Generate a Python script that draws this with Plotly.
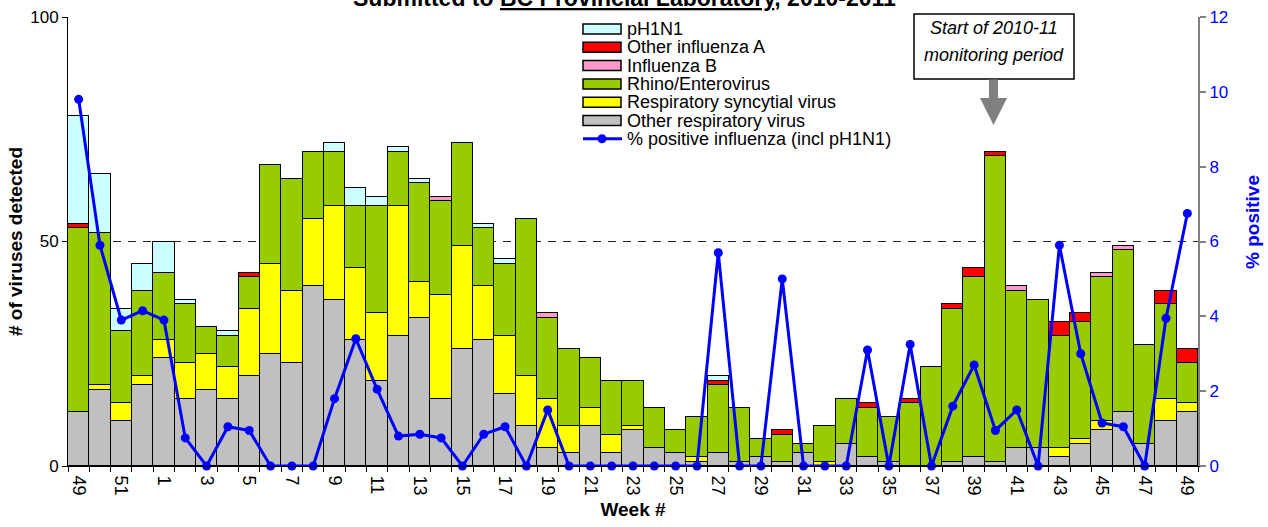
import plotly.graph_objects as go

# ---------------- data ----------------
weeks = [49, 50, 51, 52, 1, 2, 3, 4, 5, 6, 7, 8, 9, 10, 11, 12, 13, 14, 15, 16, 17,
         18, 19, 20, 21, 22, 23, 24, 25, 26, 27, 28, 29, 30, 31, 32, 33, 34, 35, 36,
         37, 38, 39, 40, 41, 42, 43, 44, 45, 46, 47, 48, 49]

series_names = ["pH1N1", "Other influenza A", "Influenza B", "Rhino/Enterovirus",
                "Respiratory syncytial virus", "Other respiratory virus"]
line_name = "% positive influenza (incl pH1N1)"

other_resp = [12, 17, 10, 18, 24, 15, 17, 15, 20, 25, 23, 40, 37, 28, 19, 29, 33,
              15, 26, 28, 16, 9, 4, 3, 9, 3, 8, 4, 3, 1, 3, 1, 2, 1, 3, 0,
              5, 2, 1, 0, 0, 1, 2, 1, 4, 4, 2, 5, 8, 12, 5, 10, 12]
rsv = [0, 1, 4, 2, 4, 8, 8, 7, 15, 20, 16, 15, 21, 16, 15, 29, 8,
       23, 23, 12, 13, 11, 11, 6, 4, 4, 1, 0, 0, 1, 0, 0, 0, 0, 0, 1,
       0, 0, 0, 0, 0, 0, 0, 0, 0, 0, 2, 1, 2, 0, 0, 5, 2]
rhino = [41, 34, 16, 19, 15, 13, 6, 7, 7, 22, 25, 15, 12, 14, 24, 12, 22,
         21, 23, 13, 16, 35, 18, 17, 11, 12, 10, 9, 5, 9, 15, 12, 4, 6, 2, 8,
         10, 11, 10, 14, 22, 34, 40, 68, 35, 33, 25, 26, 32, 36, 22, 21, 9]
flu_b = [0, 0, 0, 0, 0, 0, 0, 0, 0, 0, 0, 0, 0, 0, 0, 0, 0,
         1, 0, 0, 0, 0, 1, 0, 0, 0, 0, 0, 0, 0, 0, 0, 0, 0, 0, 0,
         0, 0, 0, 0, 0, 0, 0, 0, 1, 0, 0, 0, 1, 1, 0, 0, 0]
other_flu_a = [1, 0, 0, 0, 0, 0, 0, 0, 1, 0, 0, 0, 0, 0, 0, 0, 0,
               0, 0, 0, 0, 0, 0, 0, 0, 0, 0, 0, 0, 0, 1, 0, 0, 1, 0, 0,
               0, 1, 0, 1, 0, 1, 2, 1, 0, 0, 3, 2, 0, 0, 0, 3, 3]
ph1n1 = [24, 13, 5, 6, 7, 1, 0, 1, 0, 0, 0, 0, 2, 4, 2, 1, 1,
         0, 0, 1, 1, 0, 0, 0, 0, 0, 0, 0, 0, 0, 1, 0, 0, 0, 0, 0,
         0, 0, 0, 0, 0, 0, 0, 0, 0, 0, 0, 0, 0, 0, 0, 0, 0]
pct_positive = [9.8, 5.9, 3.9, 4.15, 3.9, 0.75, 0, 1.05, 0.95, 0, 0, 0, 1.8, 3.4, 2.05, 0.8, 0.85,
                0.75, 0, 0.85, 1.05, 0, 1.5, 0, 0, 0, 0, 0, 0, 0, 5.7, 0, 0, 5.0, 0, 0,
                0, 3.1, 0, 3.25, 0, 1.6, 2.7, 0.95, 1.5, 0, 5.9, 3.0, 1.15, 1.05, 0, 3.95, 6.75]

title_text = "Submitted to <u>BC Provincial Laboratory</u>, 2010-2011"
note_lines = ["Start of 2010-11", "monitoring period"]

# ---------------- layout geometry ----------------
W, H = 1268, 527
ML, MR, MT, MB = 68, 70, 17, 61
PW, PH = W - ML - MR, H - MT - MB


def px(x):
    return (x - ML) / PW


def py(y):
    return (H - MB - y) / PH


FONT = "Arial, 'Liberation Sans', sans-serif"
colors = ["#CCFFFF", "#FF0000", "#FF99CC", "#99CC00", "#FFFF00", "#C0C0C0"]
blue = "#0000FF"

x = list(range(len(weeks)))
fig = go.Figure()

stack_data = [other_resp, rsv, rhino, flu_b, other_flu_a, ph1n1]  # bottom -> top
for k, vals in enumerate(stack_data):
    idx = len(stack_data) - 1 - k
    fig.add_bar(
        x=x, y=[v if v else None for v in vals], name=series_names[idx],
        marker=dict(color=colors[idx], line=dict(color="black", width=1)),
        showlegend=False,
    )

fig.add_scatter(
    x=x, y=pct_positive, yaxis="y2", name=line_name, mode="lines+markers",
    line=dict(color=blue, width=3), marker=dict(color=blue, size=9),
    cliponaxis=False, showlegend=False,
)

fig.update_layout(
    width=W, height=H,
    margin=dict(l=ML, r=MR, t=MT, b=MB, autoexpand=False),
    barmode="stack", bargap=0,
    plot_bgcolor="white", paper_bgcolor="white",
    font=dict(family=FONT, size=17, color="black"),
    showlegend=False,
    xaxis=dict(
        range=[-0.5, len(weeks) - 0.5],
        tickmode="array", tickvals=x[::2], ticktext=[str(w) for w in weeks[::2]],
        tickangle=90, ticks="outside", ticklen=5, tickcolor="rgba(0,0,0,0)",
        tickfont=dict(size=18),
        minor=dict(tickmode="array", tickvals=[i - 0.5 for i in range(len(weeks) + 1)],
                   ticks="outside", ticklen=5, tickcolor="black", tickwidth=1),
        showline=True, linecolor="black", linewidth=1,
        showgrid=False, zeroline=False,
        title=dict(text="<b>Week #</b>", font=dict(size=19), standoff=8),
    ),
    yaxis=dict(
        range=[0, 100], tickmode="array", tickvals=[0, 50, 100],
        ticks="outside", ticklen=5, tickcolor="black",
        showline=True, linecolor="black", linewidth=1,
        showgrid=True, gridcolor="#222222", griddash="8px,7px", gridwidth=1,
        zeroline=False,
        title=dict(text="<b># of viruses detected</b>", font=dict(size=19), standoff=2),
    ),
    yaxis2=dict(
        overlaying="y", side="right", anchor="x",
        range=[0, 12], tickmode="array", tickvals=[0, 2, 4, 6, 8, 10, 12],
        tickfont=dict(color=blue, size=17),
        ticks="outside", ticklen=6, tickcolor="#808080", tickwidth=2,
        showline=True, linecolor="#808080", linewidth=2,
        showgrid=False, zeroline=False,
    ),
)

shapes = []
annotations = []

# right axis title
annotations.append(dict(
    text="<b>% positive</b>", xref="paper", yref="paper",
    x=px(1252), y=py(222), xanchor="center", yanchor="middle", textangle=-90,
    showarrow=False, font=dict(size=19, family=FONT, color=blue),
))

# partially visible title (its top lies above the page, as in the source)
annotations.append(dict(
    text="<b>" + title_text + "</b>", xref="paper", yref="paper",
    x=px(624), y=py(13.5), xanchor="center", yanchor="bottom", showarrow=False,
    font=dict(size=23, family=FONT, color="black"),
))

# custom legend
row_y = [29, 47.3, 65.6, 83.9, 102.2, 120.5, 138.8]
LEG_FONT = 18
for i, name in enumerate(series_names):
    shapes.append(dict(
        type="rect", xref="paper", yref="paper",
        x0=px(583), x1=px(621), y0=py(row_y[i] + 5), y1=py(row_y[i] - 5),
        fillcolor=colors[i], line=dict(color="black", width=1.5),
    ))
    annotations.append(dict(
        text=name, xref="paper", yref="paper", x=px(626), y=py(row_y[i]),
        xanchor="left", yanchor="middle", showarrow=False, borderpad=0,
        font=dict(size=LEG_FONT, family=FONT, color="black"),
    ))
shapes.append(dict(type="line", xref="paper", yref="paper",
                   x0=px(583), x1=px(622), y0=py(row_y[6]), y1=py(row_y[6]),
                   line=dict(color=blue, width=3)))
shapes.append(dict(type="circle", xref="paper", yref="paper",
                   x0=px(597.5), x1=px(606.5), y0=py(row_y[6] + 4.5), y1=py(row_y[6] - 4.5),
                   fillcolor=blue, line=dict(color=blue, width=0)))
annotations.append(dict(
    text=line_name, xref="paper", yref="paper", x=px(626), y=py(row_y[6]),
    xanchor="left", yanchor="middle", showarrow=False, borderpad=0,
    font=dict(size=LEG_FONT, family=FONT, color="black"),
))

# note box with arrow
shapes.append(dict(type="rect", xref="paper", yref="paper",
                   x0=px(914), x1=px(1074), y0=py(79), y1=py(14),
                   fillcolor="white", line=dict(color="black", width=1.5)))
for j, ln in enumerate(note_lines):
    annotations.append(dict(
        text="<i>" + ln + "</i>", xref="paper", yref="paper",
        x=px(994), y=py(28 + 27 * j), xanchor="center", yanchor="middle",
        showarrow=False, font=dict(size=18, family=FONT, color="black"),
    ))
shapes.append(dict(type="rect", xref="paper", yref="paper",
                   x0=px(989), x1=px(998), y0=py(98.5), y1=py(79.5),
                   fillcolor="#808080", line=dict(width=0)))
shapes.append(dict(type="path", xref="paper", yref="paper",
                   path="M {a},{b} L {c},{b} L {d},{e} Z".format(
                       a=px(980), b=py(98), c=px(1007), d=px(993.5), e=py(125)),
                   fillcolor="#808080", line=dict(width=0)))

fig.update_layout(shapes=shapes, annotations=annotations)

fig.write_html("out.html")
